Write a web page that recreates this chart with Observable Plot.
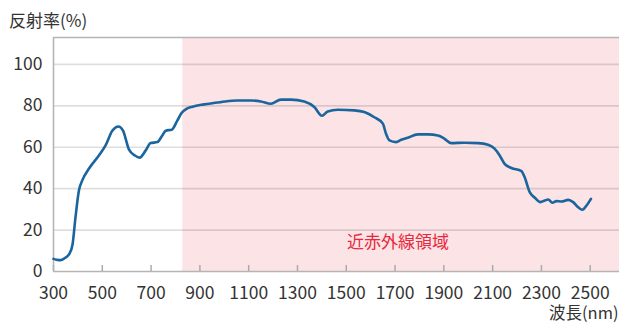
<!DOCTYPE html>
<html>
<head>
<meta charset="utf-8">
<script src="https://cdn.jsdelivr.net/npm/d3@7"></script>
<script src="https://cdn.jsdelivr.net/npm/@observablehq/plot@0.6"></script>
<style>
  html, body { margin: 0; padding: 0; background: #fff; }
  body { width: 619px; height: 324px; overflow: hidden; position: relative; font-family: "Noto Sans CJK JP", "Noto Sans", sans-serif; color: #333; }
  #title { position: absolute; top: 8px; left: 9px; height: 24px; line-height: 24px; font-size: 17px; white-space: nowrap; }
  #chart { position: absolute; top: 30px; left: 0; }
</style>
</head>
<body>
<div id="title">反射率(%)</div>
<div id="chart"></div>
<script>
// Data
const wavelength = [300,315,330,350,365,378,390,404,418,445,486,514,541,566,585,609,634,653,678,698,726,746,760,785,808,825,845,870,917,986,1054,1109,1150,1191,1232,1273,1328,1369,1400,1424,1465,1533,1574,1615,1650,1663,1677,1704,1725,1752,1793,1835,1876,1903,1930,1985,2040,2081,2108,2129,2149,2177,2218,2231,2252,2273,2296,2314,2328,2345,2362,2382,2410,2430,2451,2468,2485,2503];
const reflectance = [6.1,5.6,5.5,6.8,8.5,13,26,39,44,49.6,56,61,68,70,68,59,56,55,58.5,62,62.5,65.7,68,68.5,73,76.5,78.5,79.6,80.7,81.8,82.6,82.6,82.1,81,83,83,82.1,79.4,75.2,77.3,78.1,77.8,77,74.5,71.4,66.5,63.3,62.5,63.6,64.6,66.2,66.2,65.7,64.1,62,62.2,62,61.2,59.3,56,52,50,48.5,45.6,38.3,35.6,33.5,34.3,34.8,33.2,34,33.8,34.6,33.5,31,29.8,31.9,35.1];
const xTicks = [300,500,700,900,1100,1300,1500,1700,1900,2100,2300,2500];
const yTicks = [0,20,40,60,80,100];
const xDomain = [300, 2620];
const yDomain = [0, 113];
const nirRange = [{start: 830, end: 2620}];
const nirLabel = [{text: "近赤外線領域", x: 1712, y: 14}];
const xLabel = "波長(nm)";

const data = wavelength.map((w, i) => ({w, r: reflectance[i]}));

const chart = Plot.plot({
  width: 619,
  height: 294,
  marginLeft: 53,
  marginRight: 0,
  marginTop: 7,
  marginBottom: 53,
  style: {fontSize: "17.5px", fontFamily: "'Noto Sans CJK JP', 'Noto Sans', sans-serif", color: "#333", background: "transparent", overflow: "visible"},
  x: {domain: xDomain},
  y: {domain: yDomain},
  marks: [
    Plot.rect(nirRange, {x1: "start", x2: "end", fill: "#fbe3e6"}),
    Plot.ruleY(yTicks.filter(d => d > 0), {stroke: "#000", strokeOpacity: 0.13, strokeWidth: 1.6}),
    Plot.ruleX(xTicks, {x: d => d, stroke: "#aaa", strokeWidth: 1.5, insetTop: 228}),
    Plot.ruleY([yDomain[0], yDomain[1]], {stroke: "#b5b5b5", strokeWidth: 1.6}),
    Plot.ruleX([xDomain[0]], {stroke: "#b5b5b5", strokeWidth: 1.6}),
    Plot.axisY(yTicks, {tickSize: 0, tickPadding: 11, label: null, fill: "#333"}),
    Plot.axisX(xTicks, {tickSize: 0, tickPadding: 15, label: null, tickFormat: d => String(d), fill: "#333"}),
    Plot.line(data, {x: "w", y: "r", stroke: "#1a659e", strokeWidth: 2.6, curve: "monotone-x"}),
    Plot.text(nirLabel, {x: "x", y: "y", text: "text", fill: "#e8283c", fontSize: 17}),
    Plot.text([xLabel], {frameAnchor: "bottom-right", text: d => d, textAnchor: "end", dx: -1, dy: 47.5, fontSize: 16.5, fill: "#333"})
  ]
});
document.getElementById("chart").appendChild(chart);
</script>
</body>
</html>
